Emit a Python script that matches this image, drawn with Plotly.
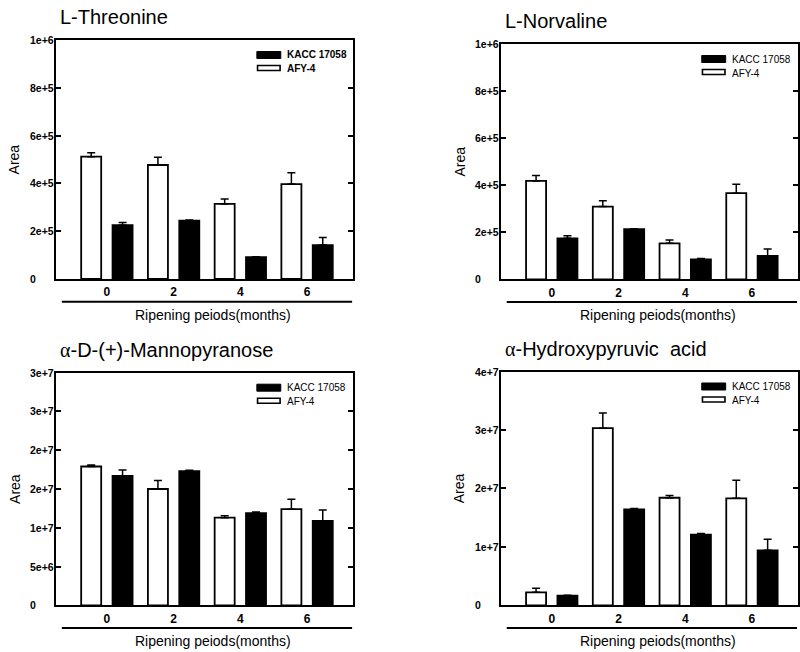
import plotly.graph_objects as go

W, H = 800, 652

months = ["0", "2", "4", "6"]
series_names = ["KACC 17058", "AFY-4"]
x_title = "Ripening peiods(months)"
y_title = "Area"

# ---- L-Threonine ----
thr_title = "L-Threonine"
thr_kacc = [2.25e5, 2.44e5, 0.91e5, 1.42e5]
thr_kacc_err = [1.1e4, 3e3, 2e3, 3.2e4]
thr_afy = [5.12e5, 4.77e5, 3.14e5, 3.97e5]
thr_afy_err = [1.6e4, 3.2e4, 2.1e4, 4.8e4]
thr_tickvals = [0, 2e5, 4e5, 6e5, 8e5, 1e6]
thr_ticktext = ["0", "2e+5", "4e+5", "6e+5", "8e+5", "1e+6"]

# ---- L-Norvaline ----
nor_title = "L-Norvaline"
nor_kacc = [1.74e5, 2.13e5, 0.85e5, 0.99e5]
nor_kacc_err = [1.1e4, 2e3, 3e3, 3.0e4]
nor_afy = [4.18e5, 3.09e5, 1.53e5, 3.66e5]
nor_afy_err = [2.3e4, 2.5e4, 1.4e4, 3.8e4]
nor_tickvals = [0, 2e5, 4e5, 6e5, 8e5, 1e6]
nor_ticktext = ["0", "2e+5", "4e+5", "6e+5", "8e+5", "1e+6"]

# ---- alpha-D-(+)-Mannopyranose ----
man_title = '<span style="font-family:Liberation Serif">α</span>-D-(+)-Mannopyranose'
man_kacc = [1.67e7, 1.73e7, 1.19e7, 1.09e7]
man_kacc_err = [0.74e6, 0.13e6, 0.13e6, 1.38e6]
man_afy = [1.79e7, 1.50e7, 1.13e7, 1.24e7]
man_afy_err = [0.2e6, 1.1e6, 0.25e6, 1.29e6]
man_tickvals = [0, 5e6, 1e7, 1.5e7, 2e7, 2.5e7, 3e7]
man_ticktext = ["0", "5e+6", "1e+7", "2e+7", "2e+7", "3e+7", "3e+7"]

# ---- alpha-Hydroxypyruvic acid ----
hyd_title = '<span style="font-family:Liberation Serif">α</span>-Hydroxypyruvic  acid'
hyd_kacc = [1.64e6, 1.64e7, 1.21e7, 0.94e7]
hyd_kacc_err = [0.1e6, 0.17e6, 0.17e6, 1.9e6]
hyd_afy = [2.22e6, 3.03e7, 1.84e7, 1.83e7]
hyd_afy_err = [0.68e6, 2.6e6, 0.4e6, 3.1e6]
hyd_tickvals = [0, 1e7, 2e7, 3e7, 4e7]
hyd_ticktext = ["0", "1e+7", "2e+7", "3e+7", "4e+7"]

FONT = "Arial, Liberation Sans, sans-serif"

# panel boxes in pixels: left, right, top, bottom
panels = [
    dict(title=thr_title, kacc=thr_kacc, kerr=thr_kacc_err, afy=thr_afy, aerr=thr_afy_err,
         tv=thr_tickvals, tt=thr_ticktext, ymax=1e6, box=(56.5, 354.0, 40.0, 279.0), legbold=True),
    dict(title=nor_title, kacc=nor_kacc, kerr=nor_kacc_err, afy=nor_afy, aerr=nor_afy_err,
         tv=nor_tickvals, tt=nor_ticktext, ymax=1e6, box=(502.5, 800.0, 44.0, 279.3), legbold=False),
    dict(title=man_title, kacc=man_kacc, kerr=man_kacc_err, afy=man_afy, aerr=man_afy_err,
         tv=man_tickvals, tt=man_ticktext, ymax=3e7, box=(56.5, 354.0, 372.7, 605.3), legbold=False),
    dict(title=hyd_title, kacc=hyd_kacc, kerr=hyd_kacc_err, afy=hyd_afy, aerr=hyd_afy_err,
         tv=hyd_tickvals, tt=hyd_ticktext, ymax=4e7, box=(502.5, 800.0, 371.5, 605.3), legbold=False),
]


def px(x):
    return x / W


def py(y):
    return 1 - y / H


fig = go.Figure()
shapes = []
annotations = []
layout = dict()

for i, p in enumerate(panels):
    n = "" if i == 0 else str(i + 1)
    xref, yref = "x" + n, "y" + n
    L, R, T, B = p["box"]

    fig.add_trace(go.Bar(
        x=months, y=p["afy"], name=series_names[1], xaxis=xref, yaxis=yref,
        offset=-0.385, width=0.30,
        marker=dict(color="white", line=dict(color="black", width=1.8)),
        error_y=dict(type="data", array=p["aerr"], arrayminus=[0] * len(months),
                     symmetric=False, color="black", thickness=1.5, width=4),
        showlegend=False,
    ))
    fig.add_trace(go.Bar(
        x=months, y=p["kacc"], name=series_names[0], xaxis=xref, yaxis=yref,
        offset=0.085, width=0.30,
        marker=dict(color="black", line=dict(color="black", width=1.8)),
        error_y=dict(type="data", array=p["kerr"], arrayminus=[0] * len(months),
                     symmetric=False, color="black", thickness=1.5, width=4),
        showlegend=False,
    ))

    layout["xaxis" + n] = dict(
        domain=[px(L), px(R)], anchor=yref, type="category",
        categoryorder="array", categoryarray=months,
        range=[-0.757, 3.69], showline=True, linecolor="black", linewidth=2,
        mirror=True, ticks="", showgrid=False, zeroline=False,
        tickfont=dict(family=FONT, size=12, color="black", weight="bold"),
        ticklabelstandoff=1,
    )
    layout["yaxis" + n] = dict(
        domain=[py(B), py(T)], anchor=xref, range=[0, p["ymax"]],
        tickmode="array", tickvals=p["tv"], showticklabels=False,
        ticks="inside", ticklen=5, tickwidth=1.5, tickcolor="black",
        showline=True, linecolor="black", linewidth=2, mirror="ticks",
        showgrid=False, zeroline=False,
    )

    # y tick labels: left aligned, placed on the axis scale
    for v, t in zip(p["tv"], p["tt"]):
        annotations.append(dict(
            text="<b>" + t + "</b>", xref="paper", yref=yref, x=px(L - 28.5), y=v,
            xanchor="left", yanchor="middle", showarrow=False,
            font=dict(family=FONT, size=10.5, color="black"),
        ))

    # panel title
    annotations.append(dict(
        text=p["title"], xref="paper", yref="paper", x=px(L + 1.5), y=py(T - 23),
        xanchor="left", yanchor="middle", showarrow=False,
        font=dict(family=FONT, size=20, color="black"),
    ))
    # y-axis title
    annotations.append(dict(
        text=y_title, xref="paper", yref="paper", x=px(L - 41.5), y=py((T + B) / 2),
        xanchor="center", yanchor="middle", textangle=-90, showarrow=False,
        font=dict(family=FONT, size=14, color="black"),
    ))
    # x-axis title and rule under tick labels
    annotations.append(dict(
        text=x_title, xref="paper", yref="paper", x=px(L + 157), y=py(B + 36),
        xanchor="center", yanchor="middle", showarrow=False,
        font=dict(family=FONT, size=14, color="black"),
    ))
    shapes.append(dict(
        type="line", xref="paper", yref="paper",
        x0=px(L + 5.5), x1=px(min(R - 1, W)), y0=py(B + 22.7), y1=py(B + 22.7),
        line=dict(color="black", width=2),
    ))

    # legend
    sx0, sx1 = L + 201, L + 225
    shapes.append(dict(type="rect", xref="paper", yref="paper",
                       x0=px(sx0), x1=px(sx1), y0=py(T + 11.5), y1=py(T + 18.5),
                       fillcolor="black", line=dict(color="black", width=1)))
    shapes.append(dict(type="rect", xref="paper", yref="paper",
                       x0=px(sx0 + 0.7), x1=px(sx1 - 0.7), y0=py(T + 25.5), y1=py(T + 30.5),
                       fillcolor="white", line=dict(color="black", width=1.6)))
    lw = "bold" if p["legbold"] else "normal"
    for txt, yc in ((series_names[0], T + 15), (series_names[1], T + 29)):
        annotations.append(dict(
            text=txt, xref="paper", yref="paper", x=px(sx1 + 4.5), y=py(yc),
            xanchor="left", yanchor="middle", showarrow=False,
            font=dict(family=FONT, size=10, color="black", weight=lw),
        ))

fig.update_layout(
    width=W, height=H, margin=dict(l=0, r=0, t=0, b=0),
    paper_bgcolor="white", plot_bgcolor="white",
    barmode="overlay", showlegend=False,
    shapes=shapes, annotations=annotations,
    font=dict(family=FONT, color="black"),
    **layout,
)

fig.write_html("out.html")
